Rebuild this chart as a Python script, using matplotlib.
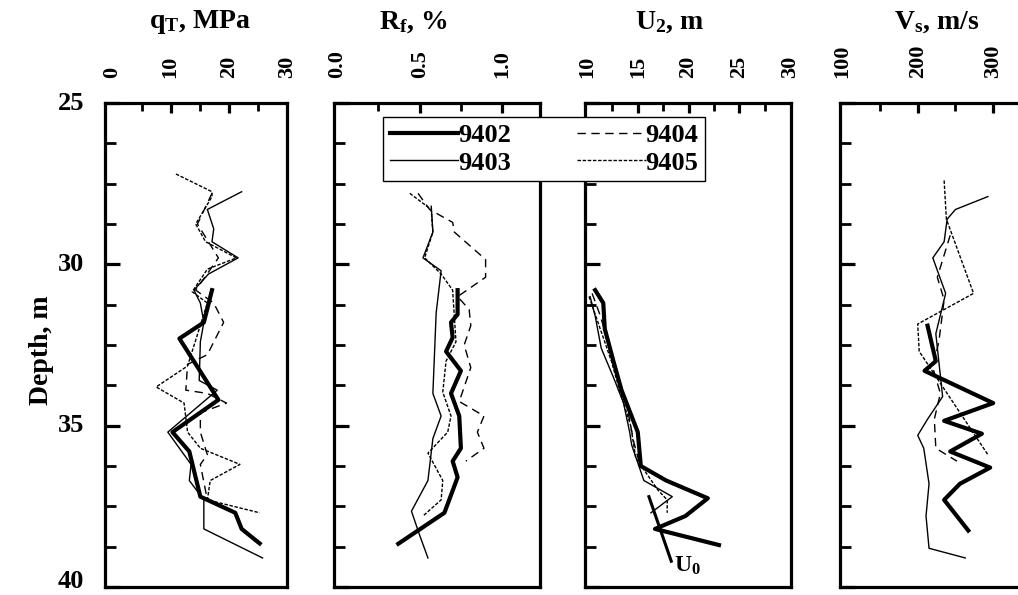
import matplotlib
matplotlib.use("Agg")
import matplotlib.pyplot as plt
from matplotlib.ticker import MultipleLocator, FixedLocator
from matplotlib.transforms import offset_copy

plt.rcParams['font.family'] = ['Liberation Serif', 'DejaVu Serif']
plt.rcParams['font.weight'] = 'bold'
plt.rcParams['mathtext.fontset'] = 'custom'
plt.rcParams['mathtext.rm'] = 'Liberation Serif:bold'
plt.rcParams['mathtext.it'] = 'Liberation Serif:bold'
plt.rcParams['mathtext.bf'] = 'Liberation Serif:bold'

# ---------------- data ----------------
series_names = ['9402', '9403', '9404', '9405']

# Panel 1: q_T (MPa)
q_9402_d = [30.8, 31.8, 32.3, 34.2, 35.2, 35.8, 37.2, 37.7, 38.2, 38.65]
q_9402 = [17.1, 15.7, 11.5, 18.2, 10.3, 13.2, 15.1, 21.1, 22.2, 25.3]
q_9403_d = [27.75, 28.3, 28.9, 29.3, 29.8, 30.3, 30.8, 31.2, 31.8, 32.4, 33.6, 33.9, 35.2, 36.2, 36.7, 37.3, 38.2, 39.1]
q_9403 = [22.2, 16.3, 17.4, 17.1, 21.6, 16.5, 14.0, 15.1, 15.7, 15.1, 14.9, 18.0, 9.5, 13.5, 13.2, 15.7, 15.7, 25.8]
q_9404_d = [27.8, 28.75, 29.8, 30.8, 31.2, 31.8, 32.8, 33.1, 33.9, 34.0, 34.3, 34.6, 35.2, 35.9, 36.2, 37.3]
q_9404 = [17.1, 14.6, 18.2, 14.3, 17.4, 19.1, 16.3, 12.9, 12.6, 16.3, 19.6, 15.1, 15.1, 16.3, 15.1, 16.3]
q_9405_d = [27.2, 27.75, 27.9, 28.75, 29.3, 29.8, 30.15, 30.85, 31.2, 33.15, 33.8, 34.3, 35.2, 35.7, 36.2, 36.7, 37.3, 37.7]
q_9405 = [10.9, 17.1, 17.1, 14.3, 16.0, 21.3, 16.3, 13.7, 16.3, 12.9, 7.5, 12.3, 12.9, 15.1, 21.9, 16.8, 16.3, 25.3]

# Panel 2: R_f (%)
r_9402_d = [30.8, 31.55, 31.8, 32.27, 32.7, 33.3, 34.0, 34.7, 35.7, 36.1, 36.6, 37.7, 38.66]
r_9402 = [0.73, 0.73, 0.69, 0.70, 0.66, 0.75, 0.69, 0.74, 0.75, 0.70, 0.73, 0.65, 0.37]
r_9403_d = [28.2, 29.0, 29.8, 30.2, 31.5, 34.0, 34.7, 35.4, 36.7, 37.65, 38.4, 39.1]
r_9403 = [0.57, 0.58, 0.52, 0.63, 0.60, 0.58, 0.63, 0.58, 0.55, 0.45, 0.50, 0.55]
r_9404_d = [27.8, 28.3, 28.7, 29.0, 29.85, 30.4, 31.0, 31.4, 31.9, 32.5, 33.2, 34.25, 34.7, 35.2, 35.7, 36.1]
r_9404 = [0.49, 0.56, 0.70, 0.71, 0.90, 0.90, 0.73, 0.80, 0.81, 0.77, 0.81, 0.74, 0.89, 0.85, 0.89, 0.78]
r_9405_d = [27.8, 28.3, 29.0, 29.8, 30.3, 30.8, 31.6, 32.4, 33.0, 33.96, 34.7, 35.2, 35.85, 36.7, 37.3, 37.8]
r_9405 = [0.44, 0.57, 0.58, 0.53, 0.63, 0.70, 0.71, 0.72, 0.66, 0.64, 0.69, 0.67, 0.55, 0.64, 0.63, 0.52]

# Panel 3: U_2 (m)
u_9402_d = [30.8, 31.2, 32.0, 33.0, 33.9, 35.2, 36.25, 36.7, 37.25, 37.8, 38.2, 38.7]
u_9402 = [10.8, 11.6, 11.75, 12.6, 13.4, 15.0, 15.3, 17.8, 21.9, 19.7, 16.7, 23.0]
u_9403_d = [31.0, 31.6, 32.6, 33.5, 34.3, 35.2, 35.6, 36.7, 37.2, 37.7]
u_9403 = [10.3, 10.8, 11.4, 12.6, 13.6, 14.2, 14.4, 15.6, 18.4, 16.3]
u_9404_d = [30.9, 31.5, 32.5, 33.5, 34.5, 35.5, 36.2]
u_9404 = [10.5, 11.2, 12.2, 13.0, 14.0, 14.6, 15.2]
u_9405_d = [31.0, 32.0, 33.0, 34.0, 35.0, 36.0, 37.0, 37.3, 37.7]
u_9405 = [10.2, 11.3, 12.4, 13.3, 14.3, 14.8, 17.0, 17.9, 17.9]
u0_d = [37.2, 39.2]
u0 = [16.1, 18.3]

# Panel 4: V_s (m/s)
v_9402_d = [31.9, 33.0, 33.3, 34.3, 34.85, 35.25, 35.8, 36.3, 36.8, 37.3, 38.25]
v_9402 = [213, 224, 209, 300, 235, 285, 243, 296, 256, 235, 267]
v_9403_d = [27.9, 28.3, 28.6, 29.3, 29.8, 30.9, 32.15, 34.1, 34.8, 35.3, 35.7, 36.8, 37.8, 38.8, 39.1]
v_9403 = [293, 250, 239, 235, 220, 237, 224, 233, 213, 200, 208, 215, 211, 215, 263]
v_9404_d = [29.1, 30.4, 31.1, 32.4, 33.2, 34.0, 34.8, 35.7, 36.1]
v_9404 = [243, 226, 235, 228, 220, 230, 222, 224, 252]
v_9405_d = [27.4, 28.6, 30.9, 31.85, 32.7, 35.9]
v_9405 = [235, 238, 274, 200, 202, 293]

titles = [r'q$_\mathrm{T}$, MPa', r'R$_\mathrm{f}$, %', r'U$_\mathrm{2}$, m', r'V$_\mathrm{s}$, m/s']
x_major_labels = [[0, 10, 20, 30], [0.0, 0.5, 1.0], [10, 15, 20, 25, 30], [100, 200, 300]]
x_label_fmt = ['{:.0f}', '{:.1f}', '{:.0f}', '{:.0f}']
y_labels = [25, 30, 35, 40]

# ---------------- styles ----------------
styles = {
    '9402': dict(color='black', lw=3.0, ls='-'),
    '9403': dict(color='black', lw=1.0, ls='-'),
    '9404': dict(color='black', lw=1.0, ls=(0, (6, 4))),
    '9405': dict(color='black', lw=1.0, ls=(0, (2.5, 1.2))),
}

W, H = 1018, 595
fig = plt.figure(figsize=(W / 100, H / 100), dpi=100)

bottom = 1 - 587 / H
height = 484 / H
panel_px = [(105, 182), (334, 206), (585, 206), (840, 206)]
xlims = [(-1.3, 30.0), (-0.02, 1.23), (9.8, 30.1), (97, 370)]
x_major = [[10, 20], [0.5, 1.0], [15, 20, 25], [200, 300]]
x_minor = [[5, 15, 25], [0.25, 0.75], [12.5, 17.5, 22.5, 27.5], [150, 250, 350]]

data = [
    [(q_9402_d, q_9402), (q_9403_d, q_9403), (q_9404_d, q_9404), (q_9405_d, q_9405)],
    [(r_9402_d, r_9402), (r_9403_d, r_9403), (r_9404_d, r_9404), (r_9405_d, r_9405)],
    [(u_9402_d, u_9402), (u_9403_d, u_9403), (u_9404_d, u_9404), (u_9405_d, u_9405)],
    [(v_9402_d, v_9402), (v_9403_d, v_9403), (v_9404_d, v_9404), (v_9405_d, v_9405)],
]

axes = []
handles = []
for i in range(4):
    l, w = panel_px[i]
    ax = fig.add_axes([l / W, bottom, w / W, height])
    axes.append(ax)
    for name, (d, v) in zip(series_names, data[i]):
        ln, = ax.plot(v, d, label=name, **styles[name])
        if i == 0:
            handles.append(ln)
    ax.set_xlim(*xlims[i])
    ax.set_ylim(40, 25)
    for s in ax.spines.values():
        s.set_linewidth(2.3)
    ax.xaxis.tick_top()
    # y ticks
    ax.yaxis.set_major_locator(FixedLocator(y_labels))
    ax.yaxis.set_minor_locator(MultipleLocator(1.25))
    ax.tick_params(axis='y', which='major', direction='in', length=11, width=2.3,
                   left=True, right=False, labelleft=False)
    ax.tick_params(axis='y', which='minor', direction='in', length=8, width=2.0,
                   left=True, right=False)
    # x ticks
    ax.xaxis.set_major_locator(FixedLocator(x_major_labels[i]))
    ax.set_xticklabels([x_label_fmt[i].format(t) for t in x_major_labels[i]],
                       rotation=90, fontsize=16, fontweight='bold')
    ax.xaxis.set_minor_locator(FixedLocator(x_minor[i]))
    ax.tick_params(axis='x', which='major', direction='in', length=0, width=2.3,
                   pad=18, top=True, bottom=False, labeltop=True, labelbottom=False)
    ax.tick_params(axis='x', which='minor', direction='in', length=6, width=2.0,
                   top=True, bottom=False)
    for t in x_major[i]:
        ax.plot([t, t], [25, 25.3], color='black', lw=2.3, solid_capstyle='butt',
                clip_on=False)

# y tick labels on first panel (40 nudged up slightly so it stays inside)
ax0 = axes[0]
ytrans = ax0.get_yaxis_transform()
for yv in y_labels:
    dy = 4 if yv == 40 else 0
    tr = offset_copy(ytrans, fig=fig, x=-15, y=dy, units='points')
    ax0.text(0, yv, str(yv), transform=tr, ha='right', va='center',
             fontsize=19, fontweight='bold', clip_on=False)

# U0 line and label
axes[2].plot(u0, u0_d, color='black', lw=2.2)
axes[2].text(18.6, 39.35, r'U$_\mathrm{0}$', fontsize=17, fontweight='bold',
             ha='left', va='center')

# titles
title_x = [200, 413, 670, 937]
for tx, t in zip(title_x, titles):
    fig.text(tx / W, 1 - 22 / H, t, ha='center', va='center', fontsize=20,
             fontweight='bold')

fig.text(42 / W, 1 - 350 / H, 'Depth, m', rotation=90, ha='center', va='center',
         fontsize=20, fontweight='bold')

leg = fig.legend(handles, series_names, ncol=2, loc='upper left',
                 bbox_to_anchor=(383 / W, 1 - 117 / H), frameon=True,
                 fancybox=False, framealpha=1, edgecolor='black',
                 prop={'family': 'Liberation Serif', 'size': 19},
                 handlelength=2.6, handletextpad=0.0, columnspacing=2.5,
                 labelspacing=0.15, borderpad=0.25, borderaxespad=0)
leg.get_frame().set_linewidth(1.0)

fig.savefig('out.png', dpi=100)
